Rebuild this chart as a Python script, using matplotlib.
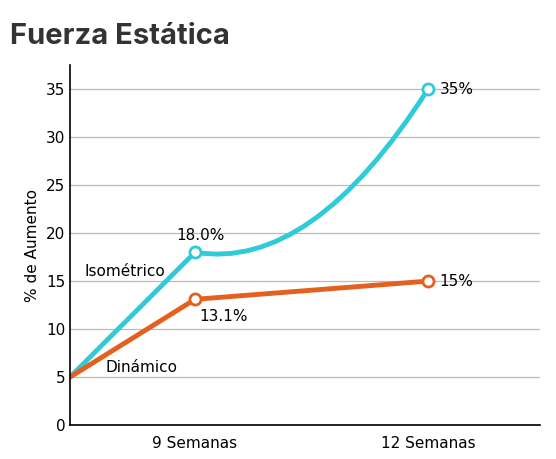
import matplotlib.pyplot as plt
from matplotlib.path import Path
from matplotlib.patches import PathPatch

# data
x_labels = ['9 Semanas', '12 Semanas']
x_pos = [0.0, 0.266, 0.762]          # start, 9 weeks, 12 weeks
isometrico = [5, 18.0, 35]
dinamico = [5, 13.1, 15]

cyan = '#2FCBD9'
orange = '#E4601F'

fig = plt.figure(figsize=(5.56, 4.59), dpi=100)
ax = fig.add_axes([0.126, 0.074, 0.845, 0.784])
fig.text(0.018, 0.905, 'Fuerza Estática', fontsize=21, fontweight='bold',
         color='#333333', family=['Inter', 'DejaVu Sans'])

ax.set_xlim(0, 1)
ax.set_ylim(0, 37.5)
ax.set_yticks(range(0, 40, 5))
ax.set_xticks(x_pos[1:])
ax.set_xticklabels(x_labels, fontsize=11)
ax.tick_params(axis='y', labelsize=11, length=0)
ax.tick_params(axis='x', length=0, pad=8)
ax.set_ylabel('% de Aumento', fontsize=11)
ax.grid(axis='y', color='#bbbbbb', lw=0.9)
ax.set_axisbelow(True)
for s in ['top', 'right']:
    ax.spines[s].set_visible(False)
ax.spines['left'].set_linewidth(1.2)
ax.spines['bottom'].set_linewidth(1.2)

# isometric: straight rise, then curved climb
ax.plot(x_pos[:2], isometrico[:2], color=cyan, lw=3.5, solid_capstyle='round')
ctrl = (x_pos[1] + 0.5 * (x_pos[2] - x_pos[1]), isometrico[1] - 2.0)
path = Path([(x_pos[1], isometrico[1]), ctrl, (x_pos[2], isometrico[2])],
            [Path.MOVETO, Path.CURVE3, Path.CURVE3])
ax.add_patch(PathPatch(path, fc='none', ec=cyan, lw=3.5))
ax.plot(x_pos[1:], isometrico[1:], 'o', ms=8, mfc='white', mec=cyan, mew=2, zorder=5)

ax.plot(x_pos, dinamico, color=orange, lw=3.5, solid_capstyle='round')
ax.plot(x_pos[1:], dinamico[1:], 'o', ms=8, mfc='white', mec=orange, mew=2, zorder=5)

fs = 11
ax.text(x_pos[1] - 0.04, isometrico[1] + 1.0, f'{isometrico[1]:.1f}%', fontsize=fs, ha='left', va='bottom')
ax.text(x_pos[1] + 0.01, dinamico[1] - 1.0, f'{dinamico[1]:.1f}%', fontsize=fs, ha='left', va='top')
ax.text(x_pos[2] + 0.025, isometrico[2], f'{isometrico[2]}%', fontsize=fs, va='center')
ax.text(x_pos[2] + 0.025, dinamico[2], f'{dinamico[2]}%', fontsize=fs, va='center')
ax.text(0.03, 16.0, 'Isométrico', fontsize=fs, va='center')
ax.text(0.075, 6.0, 'Dinámico', fontsize=fs, va='center')

fig.savefig('out.png', dpi=100)
